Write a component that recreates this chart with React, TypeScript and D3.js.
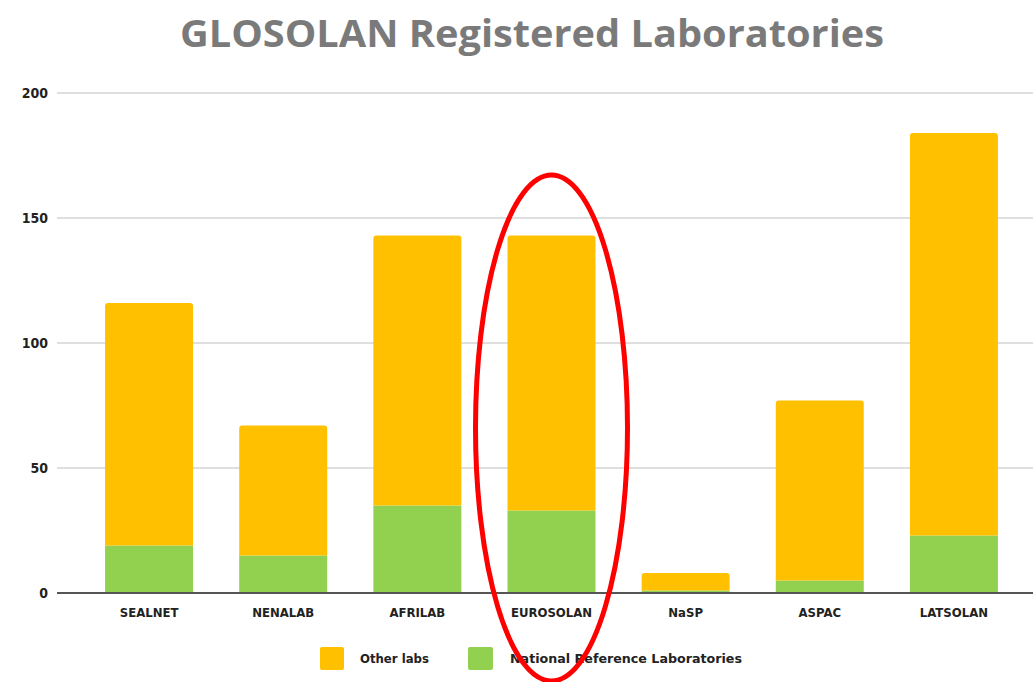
import React from "react";
import { scaleBand, scaleLinear, stack } from "d3";

const networks = ["SEALNET", "NENALAB", "AFRILAB", "EUROSOLAN", "NaSP", "ASPAC", "LATSOLAN"];
const referenceLabs = [19, 15, 35, 33, 1, 5, 23];
const otherLabs = [97, 52, 108, 110, 7, 72, 161];
const yTicks = [0, 50, 100, 150, 200];
const seriesNames = ["National Reference Laboratories", "Other labs"];

const W = 1033;
const H = 682;
const colors: Record<string, string> = {
  "Other labs": "#FFC000",
  "National Reference Laboratories": "#92D050",
};

const rows = networks.map((n, i) => ({
  network: n,
  "National Reference Laboratories": referenceLabs[i],
  "Other labs": otherLabs[i],
}));

// rect with rounded top corners only
const topRounded = (x: number, y: number, w: number, h: number, r: number) => {
  const rr = Math.min(r, h, w / 2);
  return `M${x},${y + h}V${y + rr}Q${x},${y} ${x + rr},${y}H${x + w - rr}Q${x + w},${y} ${x + w},${y + rr}V${y + h}Z`;
};

export default function App() {
  const x = scaleBand().domain(networks).range([82, 1021]).paddingInner(0.344).paddingOuter(0.172);
  const y = scaleLinear().domain([0, 200]).range([593, 93]);
  const layers = stack<any>().keys(seriesNames)(rows);
  const bw = x.bandwidth();
  const labelFont = "'Liberation Sans Narrow', 'DejaVu Sans Condensed', sans-serif";

  const circled = "EUROSOLAN";
  const cx = (x(circled) as number) + bw / 2;

  return (
    <svg width={W} height={H} style={{ position: "absolute", left: 0, top: 0, background: "#fff" }}>
      <text
        x={532}
        y={47}
        textAnchor="middle"
        fontFamily="'Open Sans', sans-serif"
        fontWeight="bold"
        fontSize={37}
        fill="#7a7a7a"
        textLength={704}
        lengthAdjust="spacingAndGlyphs"
      >
        GLOSOLAN Registered Laboratories
      </text>

      {yTicks.map((t) => (
        <g key={t}>
          {t > 0 && <line x1={57} x2={W} y1={y(t)} y2={y(t)} stroke="#d4d4d4" strokeWidth={1.5} />}
          <text
            x={48}
            y={y(t)}
            dy="0.35em"
            textAnchor="end"
            fontFamily={labelFont}
            fontWeight="bold"
            fontSize={14}
            fill="#222"
          >
            {t}
          </text>
        </g>
      ))}

      {layers.map((layer) => (
        <g key={layer.key} fill={colors[layer.key]}>
          {layer.map((d, i) => {
            const x0 = x(networks[i]) as number;
            const top = y(d[1]);
            const h = y(d[0]) - y(d[1]);
            return layer.key === "Other labs" ? (
              <path key={i} d={topRounded(x0, top, bw, h, 3)} />
            ) : (
              <rect key={i} x={x0} y={top} width={bw} height={h} />
            );
          })}
        </g>
      ))}

      <line x1={57} x2={W} y1={y(0)} y2={y(0)} stroke="#555" strokeWidth={2} />

      {networks.map((n) => (
        <text
          key={n}
          x={(x(n) as number) + bw / 2}
          y={617}
          textAnchor="middle"
          fontFamily={labelFont}
          fontWeight="bold"
          fontSize={13}
          fill="#222"
        >
          {n}
        </text>
      ))}

      {/* legend */}
      <rect x={320} y={647} width={24} height={23} rx={2} fill={colors["Other labs"]} />
      <text x={360} y={663} fontFamily={labelFont} fontWeight="bold" fontSize={13} fill="#222">
        Other labs
      </text>
      <rect x={468} y={647} width={25} height={23} rx={2} fill={colors["National Reference Laboratories"]} />
      <text x={510} y={663} fontFamily={labelFont} fontWeight="bold" fontSize={13} fill="#222" textLength={232} lengthAdjust="spacingAndGlyphs">
        National Reference Laboratories
      </text>

      {/* highlight around EUROSOLAN */}
      <ellipse cx={cx} cy={428} rx={76} ry={253} fill="none" stroke="#ff0000" strokeWidth={5} />
    </svg>
  );
}
